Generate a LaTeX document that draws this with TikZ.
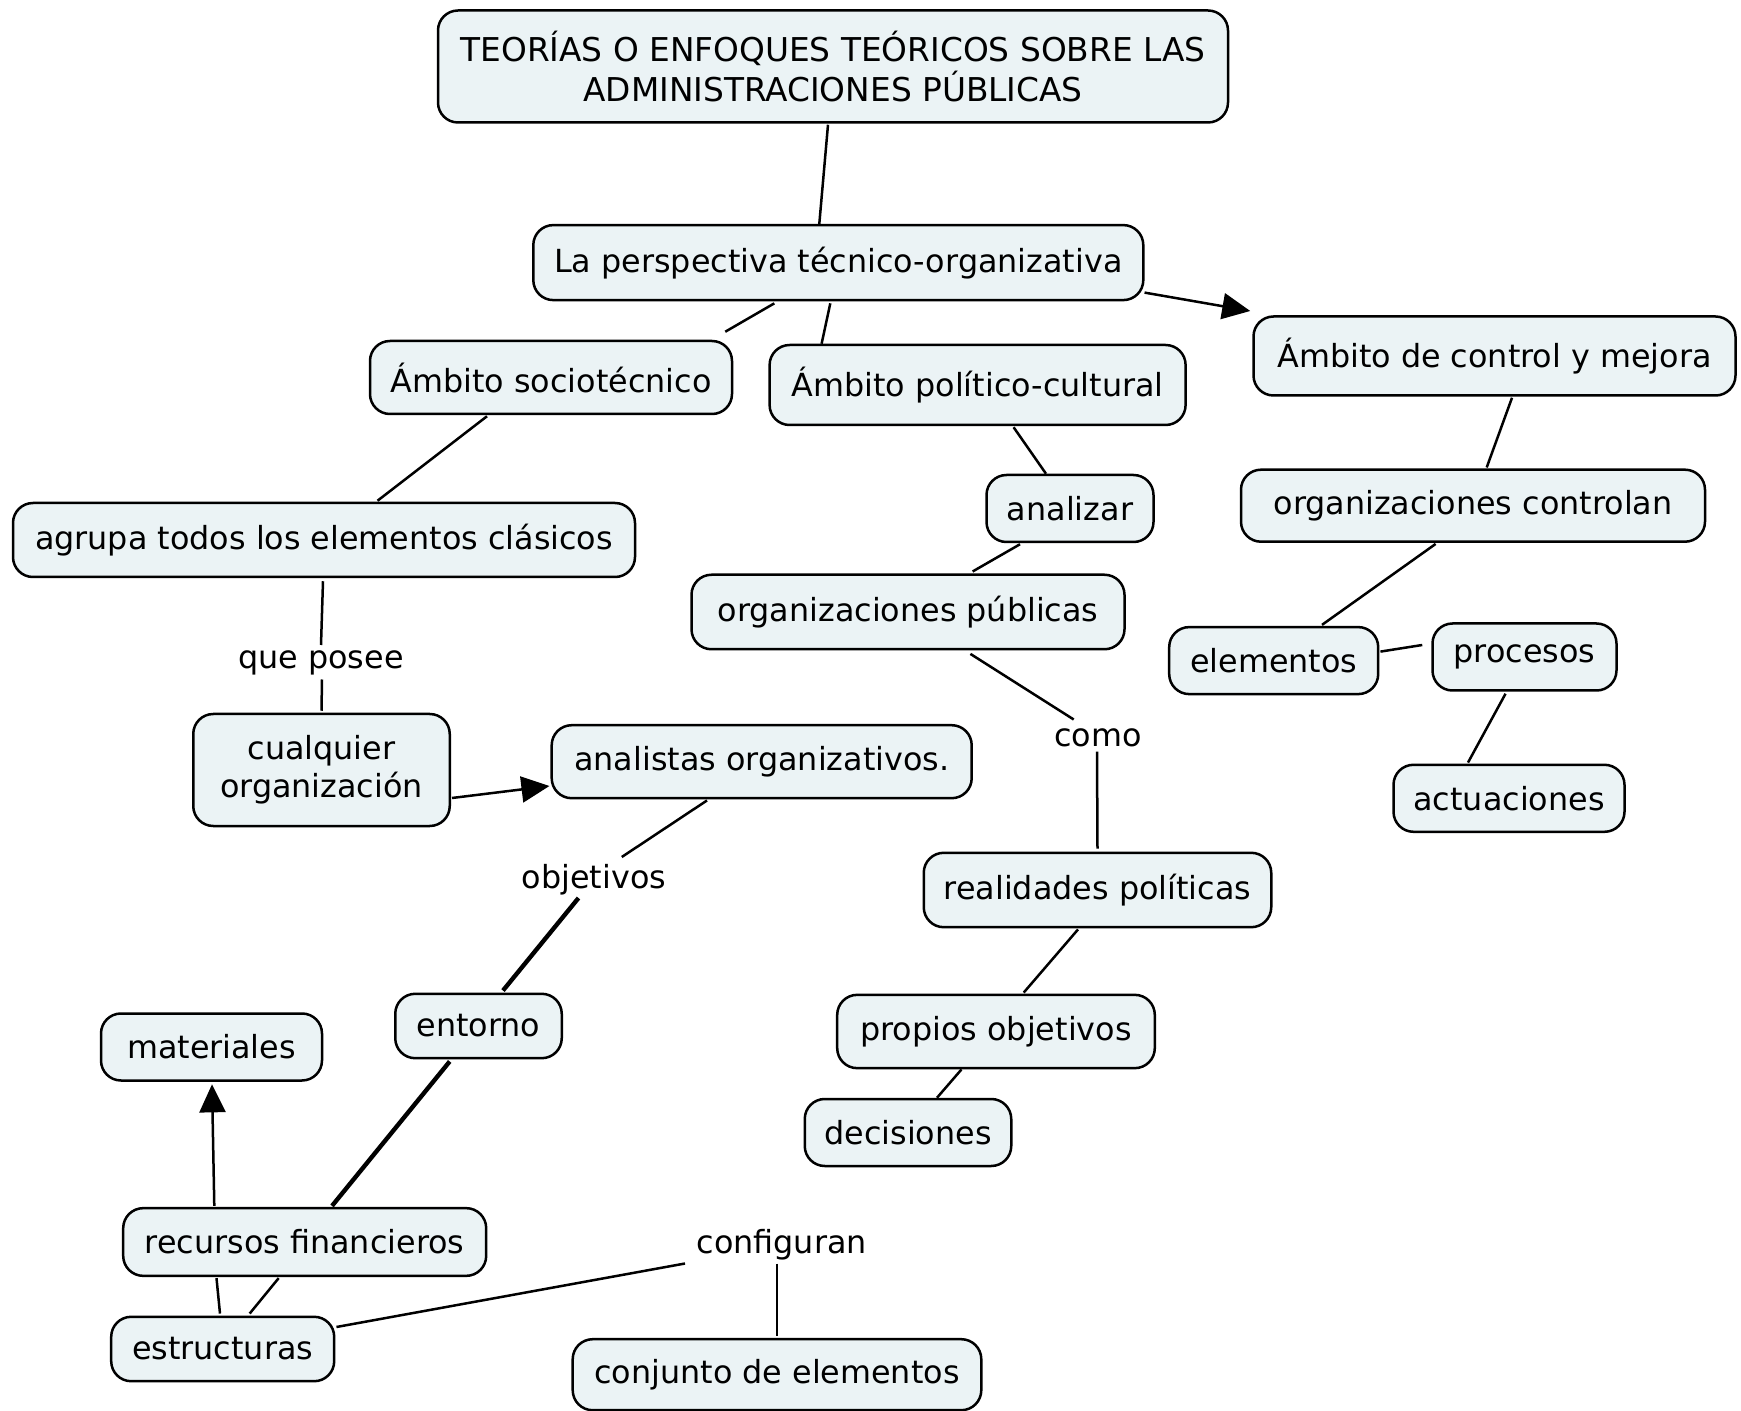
\documentclass[tikz,border=0pt]{standalone}
\usepackage{fontspec}
\setmainfont{DejaVu Sans}
\usetikzlibrary{calc,arrows.meta}
\definecolor{boxfill}{RGB}{235,243,245}
\begin{document}
\begin{tikzpicture}[x=0.5pt,y=-0.5pt,
  box/.style={draw=black, fill=boxfill, rounded corners=10pt, line width=1.25pt,
    align=center, inner sep=0pt, font=\fontsize{15.9}{19}\selectfont},
  lbl/.style={inner sep=0pt, align=center, font=\fontsize{15.9}{19}\selectfont},
  conn/.style={line width=1.25pt},
  thick conn/.style={line width=2.2pt},
  arr/.style={line width=1.25pt, -{Triangle[length=14pt,width=13pt]}}]
\useasboundingbox (0,0) rectangle (1741,1411);
\newcommand\bx[5]{\node[box, minimum width=#3*0.5pt, minimum height=#4*0.5pt] (#1) at (#2) {#5};}
\node[box, minimum width=395pt, minimum height=56pt, font=\fontsize{16.4}{19.6}\selectfont] (title) at (833,66.5) {TEORÍAS O ENFOQUES TEÓRICOS SOBRE LAS\\ADMINISTRACIONES PÚBLICAS};
\bx{persp}{838.3,262.6}{610}{75}{La perspectiva técnico-organizativa}
\bx{socio}{551,377.5}{362}{73}{Ámbito sociotécnico}
\bx{polit}{977.6,385}{416}{80}{Ámbito político-cultural}
\bx{control}{1494.5,356}{482}{79}{Ámbito de control y mejora}
\bx{analizar}{1070,508.5}{167}{67}{analizar}
\bx{orgctl}{1473,505.7}{464}{72}{organizaciones controlan}
\bx{agrupa}{324,540}{622}{74}{agrupa todos los elementos clásicos}
\bx{orgpub}{908,612}{433}{74.5}{organizaciones públicas}
\bx{elementos}{1273.7,660.6}{209}{67}{elementos}
\bx{procesos}{1524.5,657}{184}{67}{procesos}
\node[lbl] (posee) at (321,663) {que posee};
\bx{cualquier}{321.5,770}{256.5}{112}{cualquier\\organización}
\bx{analistas}{761.7,761.7}{420}{73}{analistas organizativos.}
\node[lbl] (como) at (1098,737.5) {como};
\bx{actuaciones}{1509,798.3}{231}{67}{actuaciones}
\node[lbl] (objetivos) at (594,879.5) {objetivos};
\bx{realidades}{1097.5,890}{347.5}{74.4}{realidades políticas}
\bx{entorno}{478.5,1026}{166.5}{64.4}{entorno}
\bx{materiales}{211.5,1047}{221}{67}{materiales}
\bx{propios}{996,1031.5}{317.6}{73.3}{propios objetivos}
\bx{decisiones}{908,1132.5}{206.5}{67}{decisiones}
\bx{recursos}{304.7,1242}{363}{67.7}{recursos financieros}
\node[lbl] (configuran) at (781.7,1244.8) {configuran};
\bx{estructuras}{222.7,1349}{223}{64.4}{estructuras}
\bx{conjunto}{777,1374.7}{408.6}{71}{conjunto de elementos}

\draw[conn] ($(title.south)+(-5,1)$) -- ($(persp.north)+(-19,0)$);
\draw[conn] ($(persp.south)+(-64,2)$) -- ($(socio.north east)+(-8,-8)$);
\draw[conn] ($(persp.south)+(-8,2)$) -- ($(polit.north)+(-156,0)$);
\draw[arr] ($(persp.east)+(0,30)$) -- ($(control.west)+(-2,-45)$);
\draw[conn] ($(socio.south)+(-64,1)$) -- ($(agrupa.north)+(53.5,-1)$);
\draw[conn] ($(polit.south)+(36,1)$) -- ($(analizar.north)+(-24,0)$);
\draw[conn] ($(analizar.south)+(-50,1)$) -- ($(orgpub.north)+(64.6,-2)$);
\draw[conn] ($(control.south)+(17.5,1)$) -- ($(orgctl.north)+(13.7,-1)$);
\draw[conn] ($(orgctl.south)+(-37.4,1)$) -- ($(elementos.north)+(48.3,-1)$);
\draw[conn] ($(elementos.east)+(1,-9)$) -- ($(procesos.west)+(-9,-12)$);
\draw[conn] ($(procesos.south)+(-19,2)$) -- ($(actuaciones.north)+(-41,-1)$);
\draw[conn] ($(agrupa.south)+(-1,3)$) -- ($(posee)+(0,-18)$);
\draw[conn] ($(posee)+(1,16.5)$) -- ($(cualquier.north)+(0,-2)$);
\draw[arr] ($(cualquier.east)+(1,28)$) -- ($(analistas.west)+(-1,24.3)$);
\draw[conn] ($(orgpub.south)+(62.4,3.4)$) -- ($(como)+(-24.3,-18)$);
\draw[conn] ($(como)+(-1,14.2)$) -- ($(realidades.north)+(0,-3)$);
\draw[conn] ($(analistas.south)+(-54.7,1)$) -- ($(objetivos)+(27.8,-22.5)$);
\draw[thick conn] ($(objetivos)+(-15.5,18.5)$) -- ($(entorno.north)+(24.5,-2)$);
\draw[conn] ($(realidades.south)+(-19.5,1)$) -- ($(propios.north)+(27.7,-1)$);
\draw[conn] ($(propios.south)+(-34.5,0)$) -- ($(decisiones.north)+(29,0)$);
\draw[thick conn] ($(entorno.south)+(-28.8,2)$) -- ($(recursos.north)+(27.3,-1)$);
\draw[arr] ($(recursos.north)+(-90.4,-1)$) -- ($(materiales.south)+(0.5,2.6)$);
\draw[conn] ($(recursos.south)+(-88.2,1)$) -- ($(estructuras.north)+(-2.7,-2)$);
\draw[conn] ($(recursos.south)+(-26,1)$) -- ($(estructuras.north)+(27,-2)$);
\draw[conn] ($(estructuras.east)+(1,-22)$) -- ($(configuran)+(-96.7,18.7)$);
\draw[conn] ($(configuran)+(-4.7,18.7)$) -- ($(conjunto.north)+(0,-2)$);
\end{tikzpicture}
\end{document}
